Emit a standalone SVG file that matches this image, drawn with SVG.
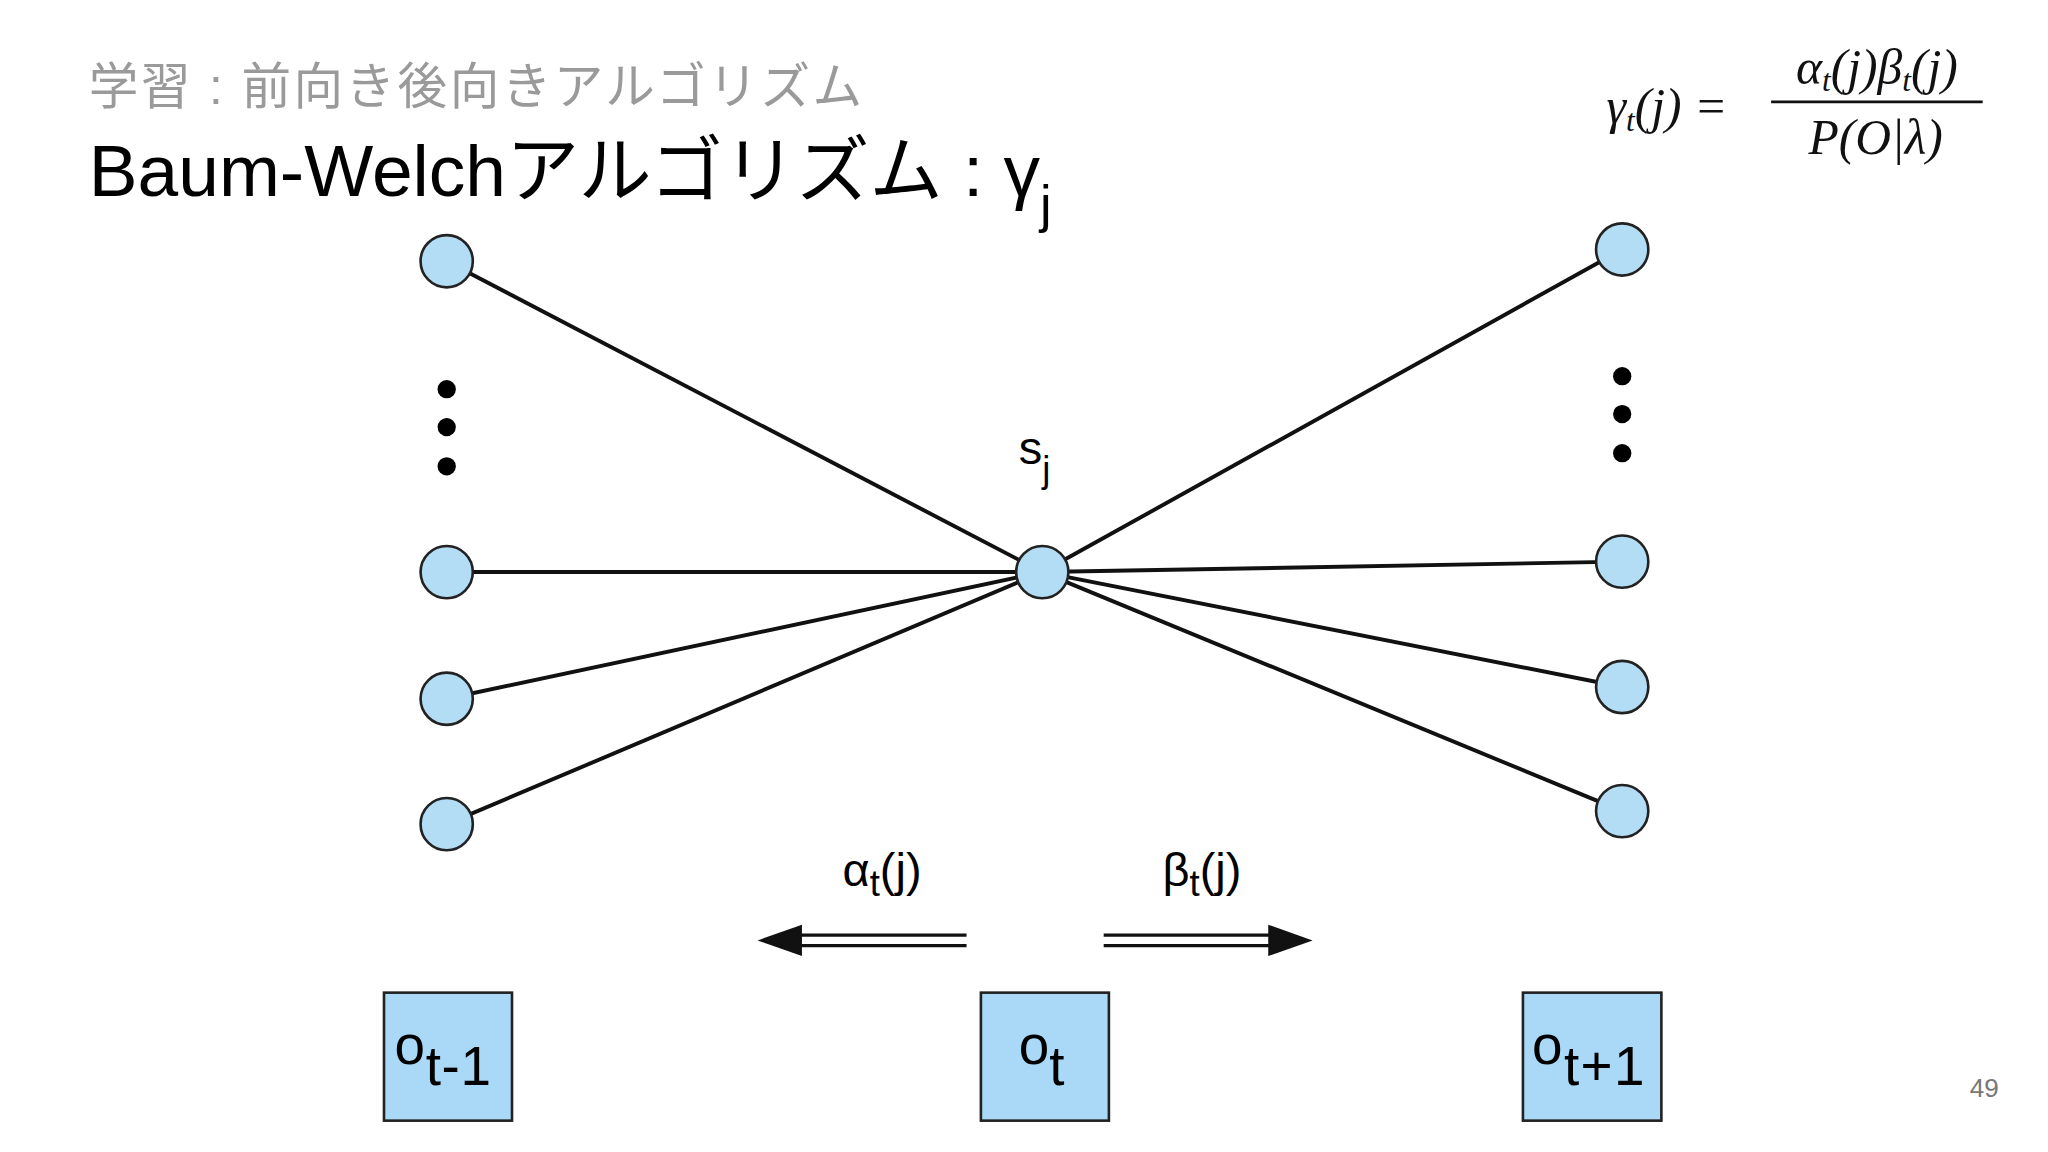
<svg xmlns="http://www.w3.org/2000/svg" width="2048" height="1152" viewBox="0 0 2048 1152">
<style>
.n{fill:#b3dcf5;stroke:#222;stroke-width:2}
.e{stroke:#111;stroke-width:3;fill:none}
.b{fill:#a9d9f7;stroke:#222;stroke-width:2}
.t{font-family:"Liberation Sans","Noto Sans CJK JP",sans-serif}
.m{font-family:"Liberation Serif",serif;font-style:italic}
</style>
<rect width="2048" height="1152" fill="#fff"/>
<g transform="scale(1.30612)">
<text class="t" x="68" y="80" font-size="38" fill="#9a9a9a" textLength="592">学習 : 前向き後向きアルゴリズム</text>
<text class="t" x="68" y="150" font-size="56" fill="#000">Baum-Welchアルゴリズム : γ<tspan font-size="40" dy="20">j</tspan></text>
<g id="formula" class="m" font-size="38" fill="#111">
<text x="1230" y="94">γ<tspan font-size="24" dy="6">t</tspan><tspan dy="-6">(j) =</tspan></text>
<text x="1437" y="64" text-anchor="middle">α<tspan font-size="24" dy="6">t</tspan><tspan dy="-6">(j)β</tspan><tspan font-size="24" dy="6">t</tspan><tspan dy="-6">(j)</tspan></text>
<line x1="1356" y1="78" x2="1518" y2="78" stroke="#111" stroke-width="2"/>
<text x="1436" y="118" text-anchor="middle">P(O|λ)</text>
</g>
<g id="connectors">
<line class="e" x1="342" y1="200" x2="798" y2="438"/>
<line class="e" x1="342" y1="438" x2="798" y2="438"/>
<line class="e" x1="342" y1="535" x2="798" y2="438"/>
<line class="e" x1="342" y1="631" x2="798" y2="438"/>
<line class="e" x1="1242" y1="191" x2="798" y2="438"/>
<line class="e" x1="1242" y1="430" x2="798" y2="438"/>
<line class="e" x1="1242" y1="526" x2="798" y2="438"/>
<line class="e" x1="1242" y1="621" x2="798" y2="438"/>
<g stroke="#111" stroke-width="2.5">
<line x1="610" y1="716" x2="740" y2="716"/><line x1="610" y1="724" x2="740" y2="724"/>
<line x1="845" y1="716" x2="975" y2="716"/><line x1="845" y1="724" x2="975" y2="724"/>
</g>
<polygon points="580,720 614,708 614,732" fill="#111"/>
<polygon points="1005,720 971,708 971,732" fill="#111"/>
</g>
<g id="left"><circle class="n" cx="342" cy="200" r="20"/><circle class="n" cx="342" cy="438" r="20"/><circle class="n" cx="342" cy="535" r="20"/><circle class="n" cx="342" cy="631" r="20"/>
<circle cx="342" cy="298" r="7"/><circle cx="342" cy="327" r="7"/><circle cx="342" cy="357" r="7"/></g>
<g id="right"><circle class="n" cx="1242" cy="191" r="20"/><circle class="n" cx="1242" cy="430" r="20"/><circle class="n" cx="1242" cy="526" r="20"/><circle class="n" cx="1242" cy="621" r="20"/>
<circle cx="1242" cy="288" r="7"/><circle cx="1242" cy="317" r="7"/><circle cx="1242" cy="347" r="7"/></g>
<g id="sj"><circle class="n" cx="798" cy="438" r="20"/><text class="t" x="780" y="355" font-size="36">s<tspan font-size="28" dy="14">j</tspan></text></g>
<text class="t" x="645" y="678" font-size="36">α<tspan font-size="28" dy="8">t</tspan><tspan dy="-8">(j)</tspan></text>
<text class="t" x="890" y="678" font-size="36">β<tspan font-size="28" dy="8">t</tspan><tspan dy="-8">(j)</tspan></text>
<g id="o1"><rect class="b" x="294" y="760" width="98" height="98"/><text class="t" x="302" y="815" font-size="42" textLength="74">o<tspan dy="16">t-1</tspan></text></g>
<g id="o2"><rect class="b" x="751" y="760" width="98" height="98"/><text class="t" x="780" y="815" font-size="42">o<tspan dy="16">t</tspan></text></g>
<g id="o3"><rect class="b" x="1166" y="760" width="106" height="98"/><text class="t" x="1173" y="815" font-size="42" textLength="86">o<tspan dy="16">t+1</tspan></text></g>
<text class="t" x="1508" y="840" font-size="20" fill="#777">49</text>
</g>
</svg>
